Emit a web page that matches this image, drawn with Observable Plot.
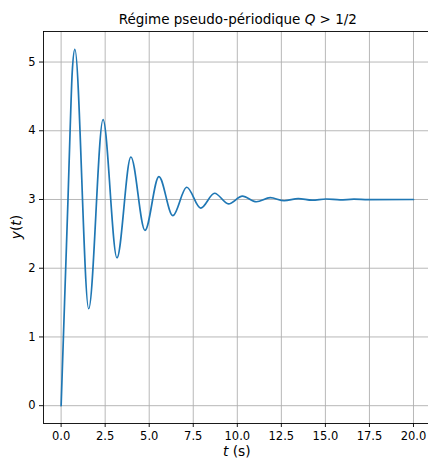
<!DOCTYPE html>
<html><head><meta charset="utf-8">
<script src="https://cdn.jsdelivr.net/npm/d3@7"></script>
<script src="https://cdn.jsdelivr.net/npm/@observablehq/plot@0.6"></script>
<style>body{margin:0;background:#fff} svg{display:block}</style>
</head><body><div id="chart"></div>
<script>
// Values
const timeS = [0, 0.13, 0.26, 0.39, 0.51, 0.63, 0.78, 1.565, 2.38, 3.17, 3.96, 4.76, 5.55, 6.34, 7.13, 7.92, 8.71, 9.50, 10.29, 11.08, 11.87, 12.66, 13.46, 14.25, 15.04, 15.83, 16.62, 17.42, 20.0];
const response = [0, 1.0, 2.0, 3.0, 4.0, 4.85, 5.185, 1.41, 4.162, 2.152, 3.618, 2.55, 3.333, 2.764, 3.178, 2.874, 3.091, 2.936, 3.048, 2.967, 3.026, 2.982, 3.014, 2.990, 3.007, 2.995, 3.004, 2.998, 3.0];
const xTicks = [0, 2.5, 5, 7.5, 10, 12.5, 15, 17.5, 20];
const yTicks = [0, 1, 2, 3, 4, 5];
const titleMain = "Régime pseudo-périodique ";
const titleVar = "Q";
const titleTail = " > 1/2";

const data = timeS.map((t, i) => ({t, y: response[i]}));
const W = 428, H = 459;
const ML = 43, MT = 31, MB = 36, MR = 0;
const xDomain = [-1, 20.852];
const yDomain = [-0.2593, 5.4443];
const FONT = "DejaVu Sans";

const chart = Plot.plot({
  width: W, height: H,
  marginLeft: ML, marginTop: MT, marginBottom: MB, marginRight: MR,
  style: {fontFamily: FONT, fontSize: "11.5px", background: "#fff", color: "#000"},
  x: {domain: xDomain},
  y: {domain: yDomain},
  marks: [
    Plot.gridX(xTicks, {stroke: "#b0b0b0", strokeOpacity: 1, strokeWidth: 0.9}),
    Plot.gridY(yTicks, {stroke: "#b0b0b0", strokeOpacity: 1, strokeWidth: 0.9}),
    Plot.line(data, {x: "t", y: "y", stroke: "#1f77b4", strokeWidth: 1.7, curve: "monotone-x"}),
    Plot.ruleX([xDomain[0]], {stroke: "#000", strokeWidth: 0.9}),
    Plot.ruleY([yDomain[0], yDomain[1]], {stroke: "#000", strokeWidth: 0.9}),
    Plot.axisX(xTicks, {tickSize: 4, tickPadding: 4.5, tickFormat: d => d.toFixed(1), label: null, fontSize: 11.5, stroke: "#000", strokeWidth: 0.9}),
    Plot.axisY(yTicks, {tickSize: 4, tickPadding: 4, tickFormat: d => String(d), label: null, fontSize: 11.5, stroke: "#000", strokeWidth: 0.9})
  ]
});
document.getElementById("chart").appendChild(chart);

const svg = d3.select(chart);
const cx = (ML + 430.6) / 2;
const title = svg.append("text").attr("x", cx + 1).attr("y", 24).attr("text-anchor", "middle")
  .attr("font-family", FONT).attr("font-size", 13.5).attr("fill", "#000");
title.append("tspan").text(titleMain);
title.append("tspan").attr("font-style", "italic").text(titleVar);
title.append("tspan").text(titleTail);

const xl = svg.append("text").attr("x", cx).attr("y", 456).attr("text-anchor", "middle")
  .attr("font-family", FONT).attr("font-size", 13.8).attr("fill", "#000");
xl.append("tspan").attr("font-style", "italic").text("t");
xl.append("tspan").text(" (s)");

const yl = svg.append("text").attr("transform", `translate(21,${(MT + H - MB) / 2}) rotate(-90)`)
  .attr("text-anchor", "middle").attr("font-family", FONT).attr("font-size", 13.8).attr("fill", "#000");
yl.append("tspan").attr("font-style", "italic").text("y");
yl.append("tspan").text("(");
yl.append("tspan").attr("font-style", "italic").text("t");
yl.append("tspan").text(")");
</script></body></html>
